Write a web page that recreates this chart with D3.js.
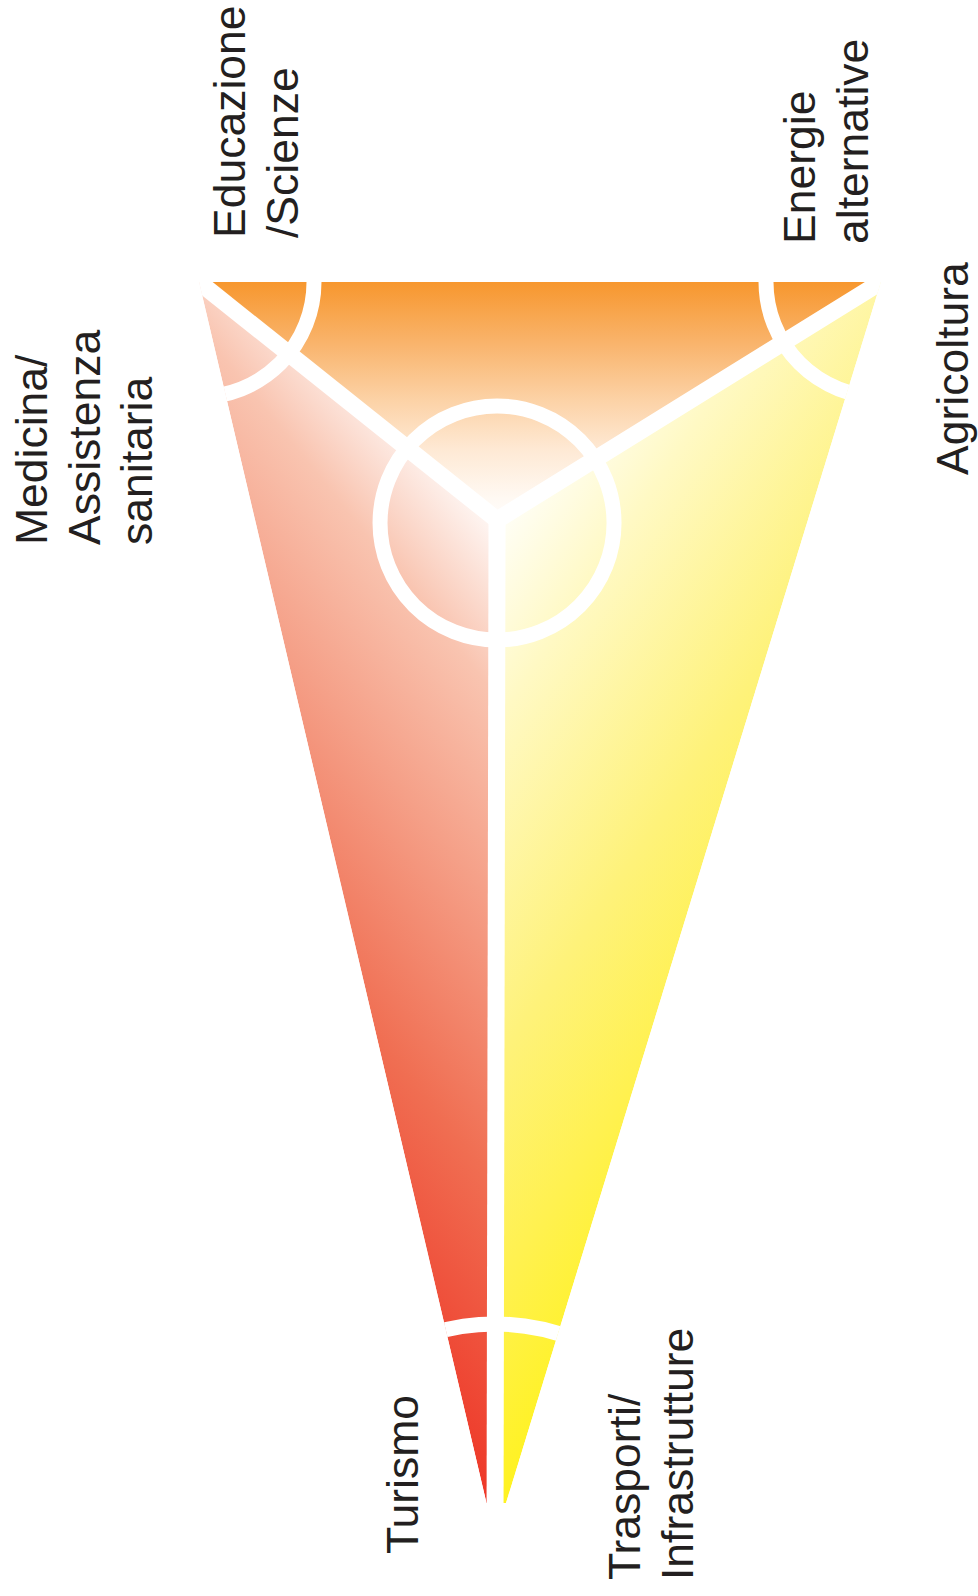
<!DOCTYPE html>
<html>
<head>
<meta charset="utf-8">
<script src="https://cdn.jsdelivr.net/npm/d3@7/dist/d3.min.js"></script>
<style>
  html, body { margin: 0; padding: 0; background: #ffffff; }
  svg { display: block; }
</style>
</head>
<body>
<svg id="chart" width="978" height="1596"></svg>
<script>
// ---------- data (diagram geometry in abstract 0–100 units) ----------
const cornerNames = ["top-left", "top-right", "apex"];
const cornerX = [0, 100, 43.4];
const cornerY = [0, 0, 100];
const hubX = 43.7;
const hubY = 18.93;

// three sectors of the triangle: corner indices that bound them (with the hub)
const sectorNames = ["top", "left", "right"];
const sectorCorners = [[0, 1], [0, 2], [1, 2]];

// sector labels (one per corner-arc piece)
const labelNames = ["Educazione/Scienze", "Energie alternative", "Agricoltura",
                    "Trasporti/Infrastrutture", "Turismo", "Medicina/Assistenza sanitaria"];
const labelLines = [
  ["Educazione", "/Scienze"],
  ["Energie", "alternative"],
  ["Agricoltura"],
  ["Trasporti/", "Infrastrutture"],
  ["Turismo"],
  ["Medicina/", "Assistenza", "sanitaria"]
];

// ---------- layout ----------
const W = 978, H = 1596;
const x = d3.scaleLinear().domain([0, 100]).range([199, 881]);
const y = d3.scaleLinear().domain([0, 100]).range([282, 1539]);

const svg = d3.select("#chart").attr("width", W).attr("height", H);
const defs = svg.append("defs");

function addGradient(id, x1, y1, x2, y2, stops) {
  const g = defs.append("linearGradient").attr("id", id)
    .attr("gradientUnits", "userSpaceOnUse")
    .attr("x1", x1).attr("y1", y1).attr("x2", x2).attr("y2", y2);
  stops.forEach(s => g.append("stop").attr("offset", s[0]).attr("stop-color", s[1]));
}
addGradient("g-top", 0, 282, 0, 528, [
  [0, "#F7972E"], [0.25, "#F9B46C"], [0.48, "#FCD2A6"], [0.68, "#FEE9D4"], [0.88, "#FFF9F3"], [1, "#FFFFFF"]
]);
addGradient("g-left", 559, 470, -11.5, 931, [
  [0.09, "#FFFFFF"], [0.26, "#F9C4B0"], [0.44, "#F5A088"], [0.68, "#F06E52"], [0.95, "#EE3A2A"], [1, "#EE3124"]
]);
addGradient("g-right", 456, 493, 1037, 881, [
  [0.05, "#FFFFFF"], [0.23, "#FFF9C4"], [0.50, "#FEF27A"], [0.68, "#FFF150"], [0.85, "#FFF224"], [1, "#FFF200"]
]);
const sectorFill = { top: "url(#g-top)", left: "url(#g-left)", right: "url(#g-right)" };

// clip: the triangle, with the apex tip cut off
const tipCut = 1503;
const triPts = cornerX.map((cx, i) => [x(cx), y(cornerY[i])]);
defs.append("clipPath").attr("id", "tri-clip")
  .append("path")
  .attr("d", () => {
    const [a, b, c] = triPts;
    const tL = (tipCut - a[1]) / (c[1] - a[1]);
    const tR = (tipCut - b[1]) / (c[1] - b[1]);
    const pl = [a[0] + (c[0] - a[0]) * tL, tipCut];
    const pr = [b[0] + (c[0] - b[0]) * tR, tipCut];
    return d3.line()([a, b, pr, pl]) + "Z";
  });

const body = svg.append("g").attr("clip-path", "url(#tri-clip)");

// sectors
const hub = [x(hubX), y(hubY)];
body.selectAll("path.sector")
  .data(sectorNames)
  .join("path")
  .attr("class", "sector")
  .attr("d", (d, i) => {
    const [c1, c2] = sectorCorners[i];
    return d3.line()([hub, triPts[c1], triPts[c2]]) + "Z";
  })
  .attr("fill", d => sectorFill[d]);

// white dividers from hub to each corner
body.selectAll("line.divider")
  .data(cornerNames)
  .join("line")
  .attr("class", "divider")
  .attr("x1", hub[0]).attr("y1", hub[1])
  .attr("x2", (d, i) => x(cornerX[i]))
  .attr("y2", (d, i) => y(cornerY[i]))
  .attr("stroke", "#ffffff")
  .attr("stroke-width", 17)
  .attr("stroke-linecap", "square");

// corner arcs
const cornerRadius = [115, 115, 215];
body.selectAll("circle.corner")
  .data(cornerNames)
  .join("circle")
  .attr("class", "corner")
  .attr("cx", (d, i) => x(cornerX[i]))
  .attr("cy", (d, i) => y(cornerY[i]))
  .attr("r", (d, i) => cornerRadius[i])
  .attr("fill", "none")
  .attr("stroke", "#ffffff")
  .attr("stroke-width", 15);

// hub circle
body.append("circle")
  .attr("cx", hub[0]).attr("cy", hub[1] + 3)
  .attr("r", 117)
  .attr("fill", "none")
  .attr("stroke", "#ffffff")
  .attr("stroke-width", 15);

// labels (rotated, reading bottom to top)
const labelPos = [
  { x: 245, y: 238 },
  { x: 815, y: 244 },
  { x: 968, y: 475 },
  { x: 640, y: 1580 },
  { x: 418, y: 1554 },
  { x: 47, y: 545 }
];
const lineStep = 52.5;
const labels = svg.append("g").attr("class", "labels");
labels.selectAll("g.label")
  .data(labelNames)
  .join("g")
  .attr("class", "label")
  .attr("transform", (d, i) => `translate(${labelPos[i].x},${labelPos[i].y}) rotate(-90)`)
  .each(function (d, i) {
    d3.select(this).selectAll("text")
      .data(labelLines[i])
      .join("text")
      .attr("x", 0)
      .attr("y", (t, j) => j * lineStep)
      .attr("font-family", "'Liberation Sans', Arial, Helvetica, sans-serif")
      .attr("font-size", 44.5)
      .attr("fill", "#231F20")
      .text(t => t);
  });
</script>
</body>
</html>
